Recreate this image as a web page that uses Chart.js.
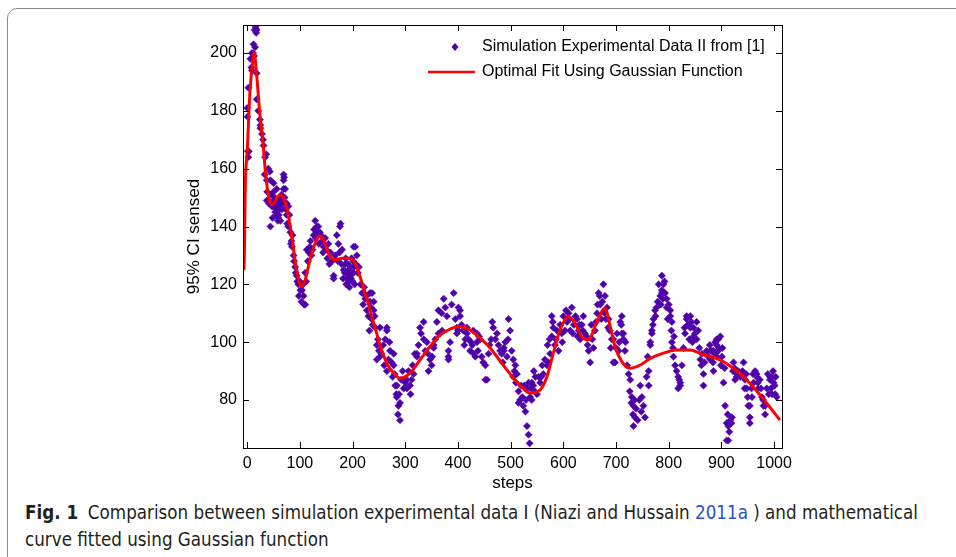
<!DOCTYPE html>
<html>
<head>
<meta charset="utf-8">
<script src="https://cdn.jsdelivr.net/npm/chart.js@4/dist/chart.umd.min.js"></script>
<style>
  html, body { margin: 0; padding: 0; background: #fff; width: 956px; height: 557px; overflow: hidden; }
  #frame { position: absolute; left: 7px; top: 8px; width: 1000px; height: 600px; border: 1px solid #8a8a8a; border-radius: 10px; }
  #wrap { position: absolute; left: 0; top: 0; width: 956px; height: 500px; }
  .cap { position: absolute; left: 25px; font-family: "Liberation Sans Narrow", "DejaVu Sans Condensed", "Open Sans", sans-serif; font-size: 19px; color: #231f20; white-space: nowrap; transform-origin: 0 0; }
  .cap b { font-weight: bold; margin-right: 10px; }
  .cap .ref { color: #2a52c8; }
</style>
</head>
<body>
<div id="frame"></div>
<div id="wrap"><canvas id="chart"></canvas></div>
<div class="cap" id="cap1" style="top:501px"><b>Fig. 1</b>Comparison between simulation experimental data I (Niazi and Hussain <span class="ref">2011a</span> ) and mathematical</div>
<div class="cap" id="cap2" style="top:528px">curve fitted using Gaussian function</div>
<script>
// simulation points (steps, 95% CI sensed)
const simSteps = [
  0, 0.5, 1, 2, 2, 3, 6, 8, 9, 9,
  11, 12, 13, 14, 15, 16, 17, 18, 18, 18,
  21, 24, 25, 25, 28, 30, 31, 34, 36, 37,
  37, 40, 43, 44, 44, 47, 50, 50, 50, 53,
  55, 56, 56, 57, 58, 59, 60, 62, 64, 66,
  67, 69, 69, 69, 70, 72, 75, 75, 78, 78,
  82, 84, 85, 88, 91, 94, 97, 101, 104, 107,
  110, 110, 113, 115, 119, 122, 126, 129, 132, 135,
  138, 142, 145, 148, 154, 158, 161, 164, 164, 167,
  170, 173, 176, 177, 180, 183, 186, 188, 190, 192,
  193, 195, 196, 199, 201, 202, 202, 204, 205, 208,
  212, 218, 224, 227, 233, 233, 236, 237, 240, 240,
  243, 246, 246, 252, 252, 262, 265, 265, 265, 271,
  274, 278, 278, 281, 284, 284, 287, 290, 290, 297,
  303, 303, 309, 312, 316, 322, 322, 328, 335, 335,
  341, 344, 347, 351, 354, 354, 363, 363, 366, 369,
  373, 382, 382, 382, 392, 398, 398, 401, 404, 404,
  414, 417, 417, 423, 430, 433, 436, 436, 445, 452,
  452, 455, 467, 471, 480, 487, 487, 490, 493, 496,
  499, 505, 505, 509, 512, 515, 515, 518, 524, 528,
  531, 534, 536, 540, 543, 547, 556, 562, 569, 575,
  578, 578, 581, 584, 591, 597, 600, 607, 613, 616,
  626, 632, 638, 648, 651, 660, 664, 667, 676, 679,
  683, 692, 695, 695, 698, 705, 708, 711, 711, 714,
  714, 717, 724, 727, 730, 733, 733, 736, 746, 749,
  752, 755, 762, 762, 765, 765, 768, 768, 771, 774,
  777, 784, 787, 787, 787, 790, 793, 796, 796, 803,
  803, 806, 806, 809, 812, 818, 818, 822, 822, 825,
  831, 834, 834, 841, 841, 847, 847, 853, 853, 856,
  860, 863, 866, 866, 872, 879, 879, 882, 885, 885,
  888, 891, 891, 891, 894, 894, 898, 901, 904, 907,
  910, 910, 913, 913, 917, 920, 923, 926, 929, 929,
  942, 945, 948, 951, 954, 954, 954, 958, 961, 967,
  967, 970, 977, 980, 983, 983, 990, 992, 992, 996,
  996, 999, 1002, 1005, 531, 534, 537, 540, 550, 553,
  544, 572, 586, 603, 610, 620, 629, 635, 641, 655,
  657, 670, 672, 686, 688, 700, 410, 427, 440, 460,
  33, 38, 41, 45, 48, 52, 54, 61, 63, 65,
  68, 71, 73, 76, 80, 83, 86, 89, 92, 95,
  98, 100, 103, 106, 108, 112, 117, 120, 124, 127,
  130, 133, 136, 140, 144, 150, 152, 156, 172, 175,
  179, 182, 185, 187, 189, 191, 194, 197, 198, 200,
  203, 206, 210, 215, 220, 222, 226, 230, 232, 235,
  238, 242, 248, 250, 255, 258, 260, 268, 270, 276,
  280, 283, 286, 288, 292, 295, 300, 306, 310, 314,
  318, 325, 330, 338, 343, 350, 357, 360, 370, 376,
  379, 385, 388, 395, 400, 407, 412, 420, 425, 429,
  438, 442, 448, 458, 463, 465, 474, 477, 483, 485,
  495, 502, 507, 510, 520, 522, 526, 529, 538, 546,
  558, 560, 565, 570, 574, 580, 588, 594, 598, 605,
  612, 618, 623, 627, 631, 637, 644, 646, 653, 662,
  665, 669, 674, 678, 681, 685, 690, 702, 706, 710,
  718, 721, 726, 729, 732, 735, 738, 741, 744, 748,
  758, 760, 770, 775, 779, 781, 785, 789, 792, 798,
  800, 805, 808, 810, 815, 820, 828, 830, 836, 839,
  843, 845, 850, 858, 862, 868, 875, 878, 884, 887,
  895, 899, 902, 906, 912, 915, 919, 922, 925, 932,
  936, 940, 944, 947, 950, 957, 960, 964, 969, 973,
  975, 979, 986, 988, 994, 998, 1001, 1003
];
const simSensed = [
  181, 178, 166, 164, 188, 166, 198, 195, 200, 194,
  200, 203, 199, 208, 202, 209, 207, 208, 193, 184,
  180, 177, 174, 175, 172, 170, 168, 164, 165, 156,
  149, 160, 159, 156, 140, 147, 152, 155, 149, 145,
  146, 153, 144, 148, 142, 143, 144, 146, 147, 146,
  150, 158, 156, 153, 157, 153, 148, 144, 147, 140,
  138, 135, 133, 130, 126, 123, 120, 118, 118, 116,
  113, 124, 132, 128, 133, 130, 137, 142, 140, 140,
  138, 135, 133, 136, 134, 131, 128, 123, 122, 130,
  137, 134, 140, 141, 132, 125, 127, 120, 124, 125,
  121, 123, 126, 124, 128, 124, 133, 120, 133, 130,
  126, 117, 115, 111, 117, 114, 108, 117, 111, 114,
  105, 99, 94, 105, 95, 101, 104, 105, 90, 97,
  93, 96, 92, 85, 81, 85, 78, 73, 79, 84,
  87, 84, 85, 87, 89, 96, 95, 105, 107, 101,
  100, 90, 94, 95, 99, 98, 103, 111, 103, 110,
  115, 95, 97, 94, 117, 103, 105, 112, 111, 109,
  101, 105, 103, 97, 96, 95, 100, 103, 95, 92,
  87, 87, 105, 101, 97, 98, 97, 100, 95, 108,
  104, 94, 88, 92, 89, 83, 79, 80, 78, 76,
  71, 68, 65, 80, 85, 88, 86, 89, 92, 96,
  102, 109, 105, 99, 97, 103, 109, 107, 104, 112,
  108, 101, 109, 97, 93, 104, 110, 117, 120, 116,
  112, 101, 93, 101, 93, 97, 107, 103, 109, 101,
  103, 97, 89, 87, 81, 78, 71, 74, 85, 81,
  78, 74, 85, 90, 100, 99, 104, 103, 108, 111,
  112, 116, 118, 123, 117, 120, 117, 112, 115, 111,
  109, 107, 100, 95, 92, 88, 84, 85, 86, 92,
  103, 108, 109, 109, 105, 105, 102, 101, 107, 104,
  94, 96, 85, 89, 97, 94, 97, 97, 97, 90,
  100, 101, 95, 99, 97, 101, 102, 95, 86, 78,
  72, 66, 71, 66, 73, 74, 93, 87, 89, 88,
  93, 87, 84, 78, 74, 72, 78, 81, 86, 89,
  88, 84, 81, 78, 75, 78, 82, 87, 88, 88,
  82, 86, 82, 81, 84, 86, 81, 86, 82, 88,
  90, 93, 101, 104, 110, 106, 104, 106, 103, 101,
  98, 113, 108, 108, 104, 98, 104, 99, 102, 99,
  158, 152, 148, 151, 143, 150, 147, 149, 142, 151,
  148, 150, 146, 141, 144, 134, 137, 128, 124, 121,
  116, 121, 114, 120, 113, 121, 131, 135, 132, 139,
  136, 138, 134, 137, 131, 132, 129, 127, 128, 131,
  127, 122, 124, 129, 122, 127, 119, 122, 129, 121,
  126, 127, 124, 120, 113, 119, 116, 109, 104, 112,
  106, 109, 101, 97, 96, 99, 92, 94, 100, 88,
  89, 82, 75, 82, 87, 90, 86, 90, 82, 92,
  96, 99, 103, 97, 96, 92, 101, 107, 104, 112,
  109, 100, 113, 108, 104, 106, 99, 101, 100, 104,
  97, 101, 93, 96, 101, 107, 103, 99, 96, 93,
  101, 97, 90, 86, 85, 81, 85, 80, 84, 83,
  88, 92, 94, 99, 101, 107, 104, 106, 100, 111,
  108, 103, 109, 102, 106, 104, 102, 99, 106, 107,
  113, 116, 114, 110, 108, 105, 98, 103, 100, 106,
  100, 92, 83, 79, 75, 80, 77, 73, 80, 76,
  88, 95, 106, 109, 114, 120, 113, 115, 121, 108,
  113, 104, 98, 102, 90, 87, 98, 105, 106, 101,
  107, 100, 103, 98, 92, 93, 95, 99, 93, 96,
  98, 92, 98, 91, 75, 69, 72, 90, 91, 90,
  88, 90, 84, 89, 81, 84, 89, 90, 86, 87,
  84, 80, 84, 89, 84, 90, 85, 88
];

// gaussian fit curve
const fitSteps = [-6, -5, -4, -3, 0, 5, 11, 13, 18, 23, 30, 34, 40, 47, 56, 63, 72, 78, 85, 92,
  100, 104, 110, 119, 129, 137, 145, 154, 167, 180, 192, 205, 214, 224, 233, 243, 252, 265, 278, 290,
  309, 328, 347, 366, 385, 401, 423, 442, 461, 480, 499, 518, 537, 556, 569, 581, 594, 610, 622, 635,
  648, 660, 673, 679, 689, 698, 711, 727, 746, 765, 790, 815, 841, 866, 891, 923, 954, 986, 1011];
const fitValues = [125, 135, 150, 158, 166, 186, 198, 200, 192.4, 181, 169, 160, 151, 147.5, 149.8, 151, 148.6, 144, 136, 127,
  120, 119.3, 121.5, 128.4, 134.2, 136.7, 135.4, 130.8, 128.4, 129, 129, 127.3, 122.7, 117, 111.2, 104.8, 99, 92.7, 89.3, 87.5,
  89.3, 93.9, 98.5, 102.5, 104.5, 105.4, 104.2, 101.4, 98, 93.5, 89, 85, 82.4, 83.5, 88.1, 96.2, 104.3, 108.9, 106.6, 101.9,
  100.8, 105.4, 110.6, 111.7, 105.4, 98.5, 93.3, 91, 92.1, 94.4, 96.2, 97.3, 97.3, 95.6, 94.4, 91, 85.8, 78.9, 73.1];

const legendLabels = ['Simulation Experimental Data II from [1]', 'Optimal Fit Using Gaussian Function'];
const pointColor = '#5000a8';
const lineColor = '#ff0000';
const tickFont = { family: '"Liberation Sans", Arial, sans-serif', size: 16 };
const titleFont = { family: '"Liberation Sans", Arial, sans-serif', size: 17 };

// box, inward ticks on all four sides, and the legend inside the axes (matlab look)
const matlabAxes = {
  id: 'matlabAxes',
  afterDraw(chart) {
    const { ctx, chartArea: a, scales } = chart;
    ctx.save();
    ctx.strokeStyle = '#000';
    ctx.lineWidth = 1;
    ctx.strokeRect(Math.round(a.left) + 0.5, Math.round(a.top) + 0.5, Math.round(a.width), Math.round(a.height));
    const tl = 6;
    ctx.beginPath();
    scales.x.ticks.forEach(t => {
      const x = Math.round(scales.x.getPixelForValue(t.value)) + 0.5;
      ctx.moveTo(x, a.bottom); ctx.lineTo(x, a.bottom - tl);
      ctx.moveTo(x, a.top); ctx.lineTo(x, a.top + tl);
    });
    scales.y.ticks.forEach(t => {
      const y = Math.round(scales.y.getPixelForValue(t.value)) + 0.5;
      ctx.moveTo(a.left, y); ctx.lineTo(a.left + tl, y);
      ctx.moveTo(a.right, y); ctx.lineTo(a.right - tl, y);
    });
    ctx.stroke();

    // legend
    const tx = a.right - 300, y1 = a.top + 22, y2 = a.top + 47;
    ctx.fillStyle = pointColor;
    ctx.beginPath();
    const mx = a.right - 327;
    ctx.moveTo(mx, y1 - 4); ctx.lineTo(mx + 3.5, y1); ctx.lineTo(mx, y1 + 4); ctx.lineTo(mx - 3.5, y1);
    ctx.closePath(); ctx.fill();
    ctx.strokeStyle = lineColor; ctx.lineWidth = 2.5;
    ctx.beginPath(); ctx.moveTo(a.right - 354, y2); ctx.lineTo(a.right - 307, y2); ctx.stroke();
    ctx.fillStyle = '#000';
    ctx.font = '16px "Liberation Sans", Arial, sans-serif';
    ctx.textBaseline = 'middle';
    ctx.fillText(legendLabels[0], tx, y1);
    ctx.fillText(legendLabels[1], tx, y2);
    ctx.restore();
  }
};

new Chart(document.getElementById('chart'), {
  type: 'scatter',
  data: {
    datasets: [
      {
        type: 'line',
        label: legendLabels[1],
        data: fitSteps.map((s, i) => ({ x: s, y: fitValues[i] })),
        borderColor: lineColor,
        borderWidth: 3,
        pointRadius: 0,
        cubicInterpolationMode: 'monotone',
        fill: false,
        order: 0
      },
      {
        label: legendLabels[0],
        data: simSteps.map((s, i) => ({ x: s, y: simSensed[i] })),
        pointStyle: 'rectRot',
        pointRadius: 3.6,
        backgroundColor: pointColor,
        borderColor: pointColor,
        borderWidth: 0.5,
        order: 1
      }
    ]
  },
  options: {
    responsive: true,
    maintainAspectRatio: false,
    animation: false,
    layout: { padding: { left: 183, right: 174, top: 25, bottom: 3 } },
    plugins: { legend: { display: false }, tooltip: { enabled: false } },
    scales: {
      x: {
        type: 'linear',
        min: -8,
        max: 1015,
        afterFit: s => { s.height = 49; },
        grid: { display: false, drawTicks: false },
        border: { display: false },
        ticks: { stepSize: 100, includeBounds: false, maxRotation: 0, padding: 6, color: '#000', font: tickFont, callback: v => String(v) },
        title: { display: true, text: 'steps', color: '#000', font: titleFont, padding: { top: 0, bottom: 3 } }
      },
      y: {
        min: 63.4,
        max: 209.7,
        afterFit: s => { s.width = 60; },
        grid: { display: false, drawTicks: false },
        border: { display: false },
        ticks: { stepSize: 20, includeBounds: false, padding: 6, color: '#000', font: tickFont, callback: v => String(v) },
        title: { display: true, text: '95% CI sensed', color: '#000', font: titleFont, padding: { top: 1, bottom: 0 } }
      }
    }
  },
  plugins: [matlabAxes]
});

// squeeze caption to the width it has in the figure
const cap1 = document.getElementById('cap1');
const cap2 = document.getElementById('cap2');
const k = 893 / cap1.getBoundingClientRect().width;
cap1.style.transform = `scaleX(${k})`;
cap2.style.transform = `scaleX(${k})`;
</script>
</body>
</html>
